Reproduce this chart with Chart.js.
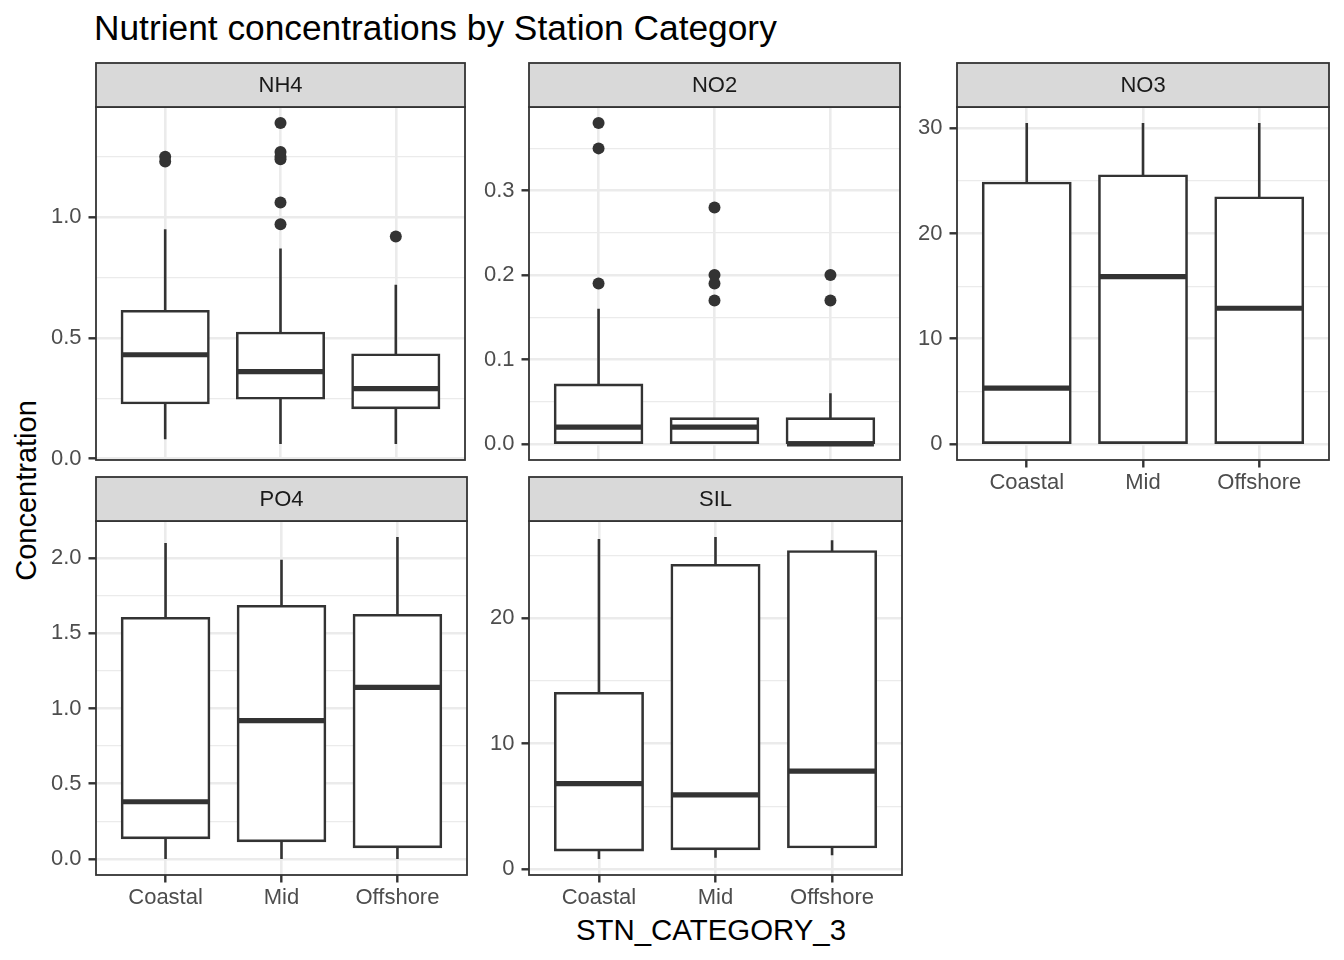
<!DOCTYPE html>
<html>
<head>
<meta charset="utf-8">
<script src="https://cdn.jsdelivr.net/npm/chart.js@4.4.1/dist/chart.umd.min.js"></script>
<style>
  body { margin: 0; background: #fff; width: 1344px; height: 960px; position: relative; overflow: hidden;
         font-family: "Liberation Sans", Arial, Helvetica, sans-serif; }
  canvas { position: absolute; }
  .txt { position: absolute; white-space: nowrap; line-height: 1; }
  #title { left: 94px; top: 10px; font-size: 35.3px; color: #000; }
  #ytitle { left: -124px; top: 476px; width: 300px; height: 29px; font-size: 29px; line-height: 29px;
            text-align: center; transform: rotate(-90deg); color: #000; }
  #xtitle { left: 511px; top: 915px; width: 400px; text-align: center; font-size: 29.4px; color: #000; }
</style>
</head>
<body>
<div class="txt" id="title">Nutrient concentrations by Station Category</div>
<div class="txt" id="ytitle">Concentration</div>
<div class="txt" id="xtitle">STN_CATEGORY_3</div>
<canvas id="panel0"></canvas>
<canvas id="panel1"></canvas>
<canvas id="panel2"></canvas>
<canvas id="panel3"></canvas>
<canvas id="panel4"></canvas>
<script>
const categories = ["Coastal", "Mid", "Offshore"];

// NH4
const nh4Low = [0.08, 0.06, 0.06];
const nh4Q1 = [0.23, 0.25, 0.21];
const nh4Median = [0.43, 0.36, 0.29];
const nh4Q3 = [0.61, 0.52, 0.43];
const nh4High = [0.95, 0.87, 0.72];
const nh4Outliers = [[1.23, 1.25], [0.97, 1.06, 1.24, 1.25, 1.27, 1.39], [0.92]];
const nh4YRange = [-0.006, 1.456];
const nh4YTicks = [0, 0.5, 1.0];
const nh4YTickLabels = ["0.0", "0.5", "1.0"];
const nh4YMinor = [0.25, 0.75, 1.25];

// NO2
const no2Low = [0, 0, 0];
const no2Q1 = [0, 0, 0];
const no2Median = [0.02, 0.02, 0.0];
const no2Q3 = [0.07, 0.03, 0.03];
const no2High = [0.16, 0.03, 0.06];
const no2Outliers = [[0.19, 0.35, 0.38], [0.17, 0.19, 0.20, 0.28], [0.17, 0.20]];
const no2YRange = [-0.019, 0.399];
const no2YTicks = [0, 0.1, 0.2, 0.3];
const no2YTickLabels = ["0.0", "0.1", "0.2", "0.3"];
const no2YMinor = [0.05, 0.15, 0.25, 0.35];

// NO3
const no3Low = [0, 0, 0];
const no3Q1 = [0, 0, 0];
const no3Median = [5.3, 15.9, 12.9];
const no3Q3 = [24.8, 25.5, 23.4];
const no3High = [30.5, 30.5, 30.5];
const no3Outliers = [[], [], []];
const no3YRange = [-1.525, 32.03];
const no3YTicks = [0, 10, 20, 30];
const no3YTickLabels = ["0", "10", "20", "30"];
const no3YMinor = [5, 15, 25];

// PO4
const po4Low = [0, 0, 0];
const po4Q1 = [0.14, 0.12, 0.08];
const po4Median = [0.38, 0.92, 1.14];
const po4Q3 = [1.60, 1.68, 1.62];
const po4High = [2.10, 1.99, 2.14];
const po4Outliers = [[], [], []];
const po4YRange = [-0.107, 2.247];
const po4YTicks = [0, 0.5, 1.0, 1.5, 2.0];
const po4YTickLabels = ["0.0", "0.5", "1.0", "1.5", "2.0"];
const po4YMinor = [0.25, 0.75, 1.25, 1.75];

// SIL
const silLow = [0.8, 0.9, 1.1];
const silQ1 = [1.5, 1.6, 1.75];
const silMedian = [6.8, 5.9, 7.8];
const silQ3 = [14.0, 24.2, 25.3];
const silHigh = [26.3, 26.45, 26.2];
const silOutliers = [[], [], []];
const silYRange = [-0.48, 27.73];
const silYTicks = [0, 10, 20];
const silYTickLabels = ["0", "10", "20"];
const silYMinor = [5, 15, 25];

const panels = [
  { name: "NH4", row: 0, col: 0, xAxis: false, low: nh4Low, q1: nh4Q1, median: nh4Median, q3: nh4Q3, high: nh4High,
    outliers: nh4Outliers, range: nh4YRange, ticks: nh4YTicks, labels: nh4YTickLabels, minor: nh4YMinor },
  { name: "NO2", row: 0, col: 1, xAxis: false, low: no2Low, q1: no2Q1, median: no2Median, q3: no2Q3, high: no2High,
    outliers: no2Outliers, range: no2YRange, ticks: no2YTicks, labels: no2YTickLabels, minor: no2YMinor },
  { name: "NO3", row: 0, col: 2, xAxis: true, low: no3Low, q1: no3Q1, median: no3Median, q3: no3Q3, high: no3High,
    outliers: no3Outliers, range: no3YRange, ticks: no3YTicks, labels: no3YTickLabels, minor: no3YMinor },
  { name: "PO4", row: 1, col: 0, xAxis: true, low: po4Low, q1: po4Q1, median: po4Median, q3: po4Q3, high: po4High,
    outliers: po4Outliers, range: po4YRange, ticks: po4YTicks, labels: po4YTickLabels, minor: po4YMinor },
  { name: "SIL", row: 1, col: 1, xAxis: true, low: silLow, q1: silQ1, median: silMedian, q3: silQ3, high: silHigh,
    outliers: silOutliers, range: silYRange, ticks: silYTicks, labels: silYTickLabels, minor: silYMinor }
];

// layout of the facet grid (pixels)
const STRIP_H = 44, TOP_GAP = 3, Y_AXIS_W = 64, X_AXIS_H = 46, BOTTOM_GAP = 24, RIGHT_GAP = 4;
const ROWS = [{ stripTop: 63, bottom: 460 }, { stripTop: 477, bottom: 875 }];
const COLS = [{ left: 96, right: 467 }, { left: 529, right: 902 }, { left: 957, right: 1329 }];
const BOX_WIDTH = 0.75;
const INK = "#333333";
const GRID = "#EBEBEB";
const FONT = '"Liberation Sans", Arial, Helvetica, sans-serif';

// panel border + grey strip with the facet name
const panelStrip = {
  id: "panelStrip",
  afterDraw(chart, args, opts) {
    const { ctx, chartArea: a } = chart;
    ctx.save();
    ctx.strokeStyle = INK;
    ctx.lineWidth = 1.8;
    ctx.strokeRect(a.left, a.top, a.right - a.left, a.bottom - a.top);
    ctx.fillStyle = "#D9D9D9";
    ctx.fillRect(a.left, a.top - STRIP_H, a.right - a.left, STRIP_H);
    ctx.strokeRect(a.left, a.top - STRIP_H, a.right - a.left, STRIP_H);
    ctx.fillStyle = "#1A1A1A";
    ctx.font = "22px " + FONT;
    ctx.textAlign = "center";
    ctx.textBaseline = "middle";
    ctx.fillText(opts.label, (a.left + a.right) / 2, a.top - STRIP_H / 2 + 1);
    ctx.restore();
  }
};

panels.forEach((p, k) => {
  const row = ROWS[p.row], col = COLS[p.col];
  const canvas = document.getElementById("panel" + k);
  const below = p.xAxis ? X_AXIS_H : BOTTOM_GAP;
  const w = Y_AXIS_W + (col.right - col.left) + RIGHT_GAP;
  const h = (row.bottom - row.stripTop) + TOP_GAP + below;
  canvas.width = w;
  canvas.height = h;
  canvas.style.width = w + "px";
  canvas.style.height = h + "px";
  canvas.style.left = (col.left - Y_AXIS_W) + "px";
  canvas.style.top = (row.stripTop - TOP_GAP) + "px";

  const pos = i => i + 1;
  const boxes = categories.map((c, i) => ({ x: pos(i), y: [p.q1[i], p.q3[i]] }));
  const whiskers = [], medians = [], outliers = [];
  categories.forEach((c, i) => {
    whiskers.push({ x: pos(i), y: p.low[i] }, { x: pos(i), y: p.q1[i] }, { x: pos(i), y: null },
                  { x: pos(i), y: p.q3[i] }, { x: pos(i), y: p.high[i] }, { x: pos(i), y: null });
    medians.push({ x: pos(i) - BOX_WIDTH / 2, y: p.median[i] }, { x: pos(i) + BOX_WIDTH / 2, y: p.median[i] },
                 { x: pos(i), y: null });
    p.outliers[i].forEach(v => outliers.push({ x: pos(i), y: v }));
  });

  const isMajor = v => p.ticks.includes(v);
  const yTicks = p.ticks.concat(p.minor).sort((a, b) => a - b);

  new Chart(canvas, {
    type: "bar",
    data: {
      datasets: [
        { type: "line", label: "outliers", data: outliers, showLine: false, pointRadius: 6,
          pointBackgroundColor: INK, pointBorderWidth: 0, order: 0 },
        { type: "line", label: "median", data: medians, borderColor: INK, borderWidth: 5.2,
          borderCapStyle: "butt", pointRadius: 0, order: 1 },
        { type: "line", label: "whiskers", data: whiskers, borderColor: INK, borderWidth: 2.6,
          borderCapStyle: "butt", pointRadius: 0, order: 2 },
        { type: "bar", label: "box", data: boxes, backgroundColor: "#FFFFFF", borderColor: INK, borderWidth: 2.6,
          borderSkipped: false, inflateAmount: 1.3, categoryPercentage: 1, barPercentage: BOX_WIDTH, order: 3 }
      ]
    },
    options: {
      responsive: false,
      animation: false,
      events: [],
      layout: { padding: { top: STRIP_H + TOP_GAP, right: RIGHT_GAP, bottom: p.xAxis ? 0 : BOTTOM_GAP, left: 0 } },
      plugins: {
        legend: { display: false },
        tooltip: { enabled: false },
        panelStrip: { label: p.name }
      },
      scales: {
        x: {
          type: "linear",
          min: 0.4,
          max: 3.6,
          offset: false,
          bounds: "data",
          afterBuildTicks: s => { s.ticks = categories.map((c, i) => ({ value: pos(i) })); },
          afterFit: s => { s.height = p.xAxis ? X_AXIS_H : 0; },
          border: { display: false },
          grid: { color: GRID, lineWidth: 2.6, offset: false, drawTicks: p.xAxis,
                  tickLength: 7.5, tickColor: INK, tickWidth: 2.4 },
          ticks: {
            display: p.xAxis,
            autoSkip: false,
            maxRotation: 0,
            padding: 2,
            color: "#4D4D4D",
            font: { family: FONT, size: 22 },
            callback: v => categories[Math.round(v) - 1]
          }
        },
        y: {
          type: "linear",
          min: p.range[0],
          max: p.range[1],
          bounds: "data",
          afterBuildTicks: s => { s.ticks = yTicks.map(v => ({ value: v })); },
          afterFit: s => { s.width = Y_AXIS_W; },
          border: { display: false },
          grid: {
            color: GRID,
            lineWidth: c => (c.tick && isMajor(c.tick.value) ? 2.6 : 1.3),
            tickLength: 7.5,
            tickWidth: 2.4,
            tickColor: c => (c.tick && isMajor(c.tick.value) ? INK : "rgba(0,0,0,0)")
          },
          ticks: {
            autoSkip: false,
            padding: 7,
            color: "#4D4D4D",
            font: { family: FONT, size: 22 },
            callback: v => { const j = p.ticks.indexOf(v); return j >= 0 ? p.labels[j] : ""; }
          }
        }
      }
    },
    plugins: [panelStrip]
  });
});
</script>
</body>
</html>
